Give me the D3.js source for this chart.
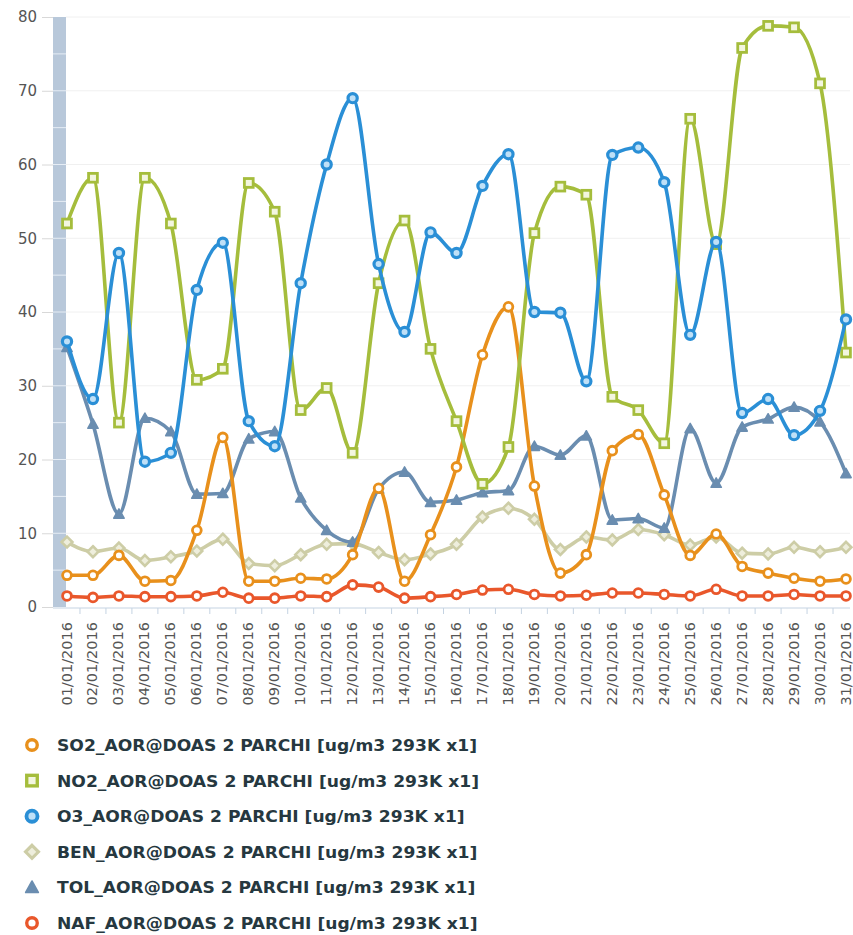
<!DOCTYPE html>
<html><head><meta charset="utf-8">
<script src="https://cdn.jsdelivr.net/npm/d3@7"></script>
<style>body{margin:0;background:#fff;}svg{display:block;font-family:"DejaVu Sans",Verdana,sans-serif;}</style>
</head><body><svg id="c" width="853" height="935"></svg>
<script>
const dates = ["01/01/2016","02/01/2016","03/01/2016","04/01/2016","05/01/2016","06/01/2016","07/01/2016","08/01/2016","09/01/2016","10/01/2016","11/01/2016","12/01/2016","13/01/2016","14/01/2016","15/01/2016","16/01/2016","17/01/2016","18/01/2016","19/01/2016","20/01/2016","21/01/2016","22/01/2016","23/01/2016","24/01/2016","25/01/2016","26/01/2016","27/01/2016","28/01/2016","29/01/2016","30/01/2016","31/01/2016"];
const yTicks = [0,10,20,30,40,50,60,70,80];
const so2 = [4.3,4.3,7,3.5,3.6,10.4,23,3.5,3.5,3.9,3.8,7.1,16.1,3.5,9.8,19,34.2,40.7,16.4,4.6,7.1,21.2,23.4,15.2,7,9.9,5.5,4.6,3.9,3.5,3.8];
const no2 = [52,58.2,25,58.2,52,30.8,32.3,57.5,53.6,26.7,29.7,20.9,43.9,52.4,35,25.2,16.7,21.7,50.7,57,55.9,28.5,26.7,22.2,66.2,49.2,75.8,78.8,78.6,71,34.5];
const o3 = [36,28.2,48,19.7,20.9,43,49.4,25.2,21.8,43.9,60,69,46.5,37.3,50.8,48,57.1,61.4,40,39.9,30.6,61.3,62.3,57.6,36.9,49.5,26.3,28.2,23.3,26.6,39];
const ben = [8.8,7.5,8,6.3,6.8,7.6,9.2,5.9,5.6,7.1,8.5,8.6,7.4,6.4,7.2,8.5,12.2,13.4,11.9,7.8,9.5,9.1,10.5,9.8,8.4,9.5,7.3,7.2,8.1,7.5,8.1];
const tol = [35.2,24.8,12.6,25.6,23.8,15.3,15.4,22.8,23.8,14.8,10.4,8.8,16,18.3,14.2,14.5,15.5,15.8,21.8,20.6,23.2,11.8,12,10.7,24.2,16.8,24.4,25.5,27.1,25.1,18.1];
const naf = [1.5,1.3,1.5,1.4,1.4,1.5,2.0,1.2,1.2,1.5,1.4,3,2.7,1.2,1.4,1.7,2.3,2.4,1.7,1.5,1.6,1.9,1.9,1.7,1.5,2.4,1.5,1.5,1.7,1.5,1.5];
const seriesNames = ["SO2_AOR@DOAS 2 PARCHI [ug/m3 293K x1]","NO2_AOR@DOAS 2 PARCHI [ug/m3 293K x1]","O3_AOR@DOAS 2 PARCHI [ug/m3 293K x1]","BEN_AOR@DOAS 2 PARCHI [ug/m3 293K x1]","TOL_AOR@DOAS 2 PARCHI [ug/m3 293K x1]","NAF_AOR@DOAS 2 PARCHI [ug/m3 293K x1]"];
const colors = ["#e8901c","#a5bd3c","#2a8fd6","#cdcda6","#6a8db0","#e9572b"];
const symbols = ["circle","square","circleFill","diamond","triangle","circle"];

const series = [so2,no2,o3,ben,tol,naf].map((v,i)=>({name:seriesNames[i],values:v,color:colors[i],sym:symbols[i]}));

const svg = d3.select("#c");
const x = d3.scalePoint().domain(dates).range([67,846]);
const y = d3.scaleLinear().domain([0,80]).range([607,17]);
const step = x.step();

// gridlines
svg.append("g").selectAll("line").data(yTicks.filter(d=>d>0)).join("line")
  .attr("x1",66).attr("x2",850).attr("y1",d=>y(d)).attr("y2",d=>y(d))
  .attr("stroke","#f0f0f0").attr("stroke-width",1);

// left bar
svg.append("rect").attr("x",53).attr("y",y(80)).attr("width",13).attr("height",y(0)-y(80)).attr("fill","#b8c8da");
svg.append("g").selectAll("line").data(d3.range(5,80,5)).join("line")
  .attr("x1",53).attr("x2",66).attr("y1",d=>y(d)).attr("y2",d=>y(d))
  .attr("stroke","#e6edf5").attr("stroke-width",1);

// y axis
const yAxis = svg.append("g").attr("transform","translate(53,0)")
  .call(d3.axisLeft(y).tickValues(yTicks).tickSize(11).tickPadding(5));
yAxis.select(".domain").remove();
yAxis.selectAll(".tick line").attr("stroke","#d8d8d8");
yAxis.selectAll(".tick text").attr("fill","#555").style("font-size","15px").attr("font-family","'DejaVu Sans',sans-serif");

// x axis
const xg = svg.append("g").attr("transform","translate(0,608)");
xg.append("line").attr("x1",53).attr("x2",850).attr("y1",0).attr("y2",0).attr("stroke","#c5d3e2");
xg.selectAll("line.tk").data(dates).join("line").attr("class","tk")
  .attr("x1",d=>x(d)+step/2).attr("x2",d=>x(d)+step/2).attr("y1",0).attr("y2",6).attr("stroke","#c5d3e2");
xg.selectAll("text").data(dates).join("text")
  .attr("transform",d=>`translate(${x(d)+4.5},14) rotate(-90)`)
  .attr("text-anchor","end").attr("fill","#555").style("font-size","14.5px").text(d=>d);

// lines
const line = d3.line().x((d,i)=>x(dates[i])).y(d=>y(d)).curve(d3.curveMonotoneX);
const order = [3,4,0,5,1,2];
function marker(g, s, cx, cy, scale){
  const c = s.color;
  if(s.sym==="circle"){
    g.append("circle").attr("cx",cx).attr("cy",cy).attr("r",4.4*scale).attr("fill","#fff").attr("stroke",c).attr("stroke-width",2.8*scale);
  } else if(s.sym==="circleFill"){
    g.append("circle").attr("cx",cx).attr("cy",cy).attr("r",4.6*scale).attr("fill","#bfe0f7").attr("stroke",c).attr("stroke-width",3.2*scale);
  } else if(s.sym==="square"){
    const h=4.4*scale;
    g.append("rect").attr("x",cx-h).attr("y",cy-h).attr("width",2*h).attr("height",2*h).attr("fill","#f3f6e0").attr("stroke",c).attr("stroke-width",2.8*scale);
  } else if(s.sym==="diamond"){
    const h=5.4*scale;
    g.append("path").attr("d",`M${cx},${cy-h}L${cx+h},${cy}L${cx},${cy+h}L${cx-h},${cy}Z`).attr("fill","#eeeedc").attr("stroke",c).attr("stroke-width",2.6*scale);
  } else if(s.sym==="triangle"){
    const h=5.2*scale;
    g.append("path").attr("d",`M${cx},${cy-h}L${cx+h},${cy+h*0.8}L${cx-h},${cy+h*0.8}Z`).attr("fill",c).attr("stroke",c).attr("stroke-width",1.5*scale).attr("stroke-linejoin","round");
  }
}
order.forEach(k=>{
  const s = series[k];
  const g = svg.append("g");
  g.append("path").attr("d",line(s.values)).attr("fill","none").attr("stroke",s.color).attr("stroke-width",3.6).attr("stroke-linejoin","round");
  s.values.forEach((v,i)=>marker(g,s,x(dates[i]),y(v),1));
});

// legend
const lg = svg.append("g");
series.forEach((s,i)=>{
  const cy = 745 + i*35.6;
  marker(lg,s,32,cy,1.2);
  lg.append("text").attr("x",57).attr("y",cy).attr("dy","0.36em")
    .attr("fill","#263840").style("font-size","16.5px").style("font-weight","bold")
    .text(s.name);
});
// scale legend texts so the SO2 row spans ~420px, as in the reference
const texts = lg.selectAll("text").nodes();
const ratio = 420 / texts[0].getComputedTextLength();
const widths = texts.map(t=>t.getComputedTextLength());
texts.forEach((t,i)=>{
  d3.select(t).attr("textLength",widths[i]*ratio).attr("lengthAdjust","spacingAndGlyphs");
});
</script></body></html>
